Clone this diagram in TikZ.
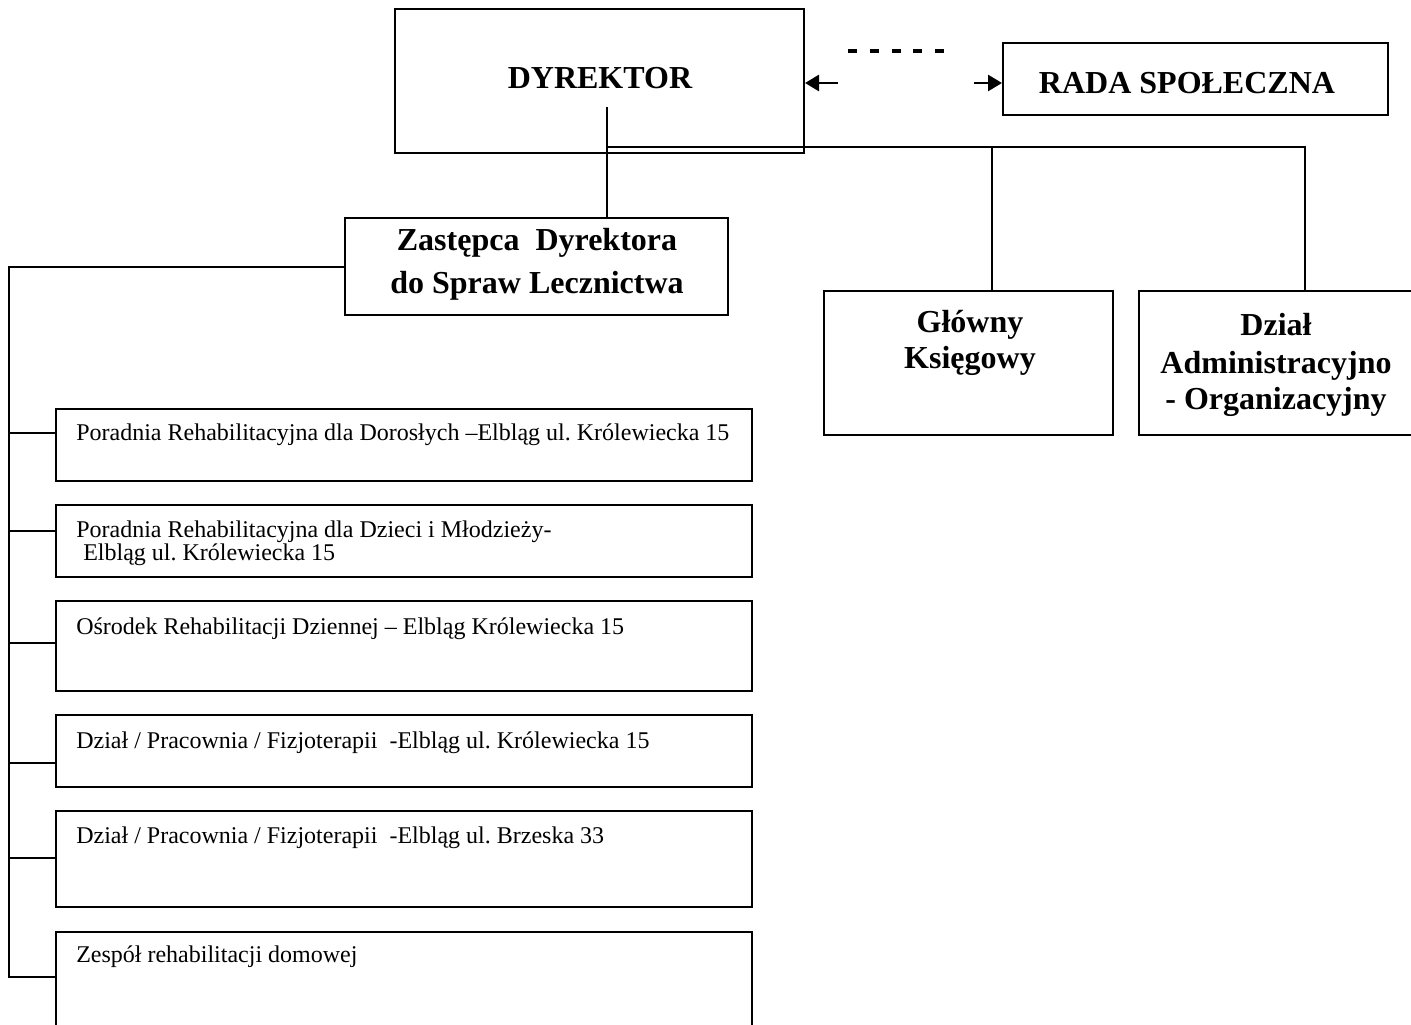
\documentclass[tikz,border=0pt]{standalone}
\usepackage{fontspec}
\setmainfont{Liberation Serif}
\usetikzlibrary{arrows.meta}
\frenchspacing
\newcommand\mkbox[5]{\node[box, minimum width={(#4)*0.75pt}, minimum height={(#5)*0.75pt}] (#1) at ({#2+(#4)/2},{#3+(#5)/2}) {};}
\begin{document}
\begin{tikzpicture}[x=0.75pt,y=-0.75pt,
  box/.style={draw, rectangle, inner sep=0pt, line width=1.5pt},
  title/.style={font=\fontsize{24}{26}\selectfont\bfseries, inner sep=0pt, anchor=base},
  body/.style={font=\fontsize{18}{20}\selectfont, inner sep=0pt, anchor=base west},
  conn/.style={line width=1.5pt},
  arr/.style={line width=2pt, -{Triangle[length=10.5pt,width=12pt]}},
  dashline/.style={line width=3pt, dash pattern=on 6.75pt off 9.56pt}
]
\useasboundingbox (0,0) rectangle (1411,1025);
\fill[white] (0,0) rectangle (1411,1025);
\clip (0,0) rectangle (1411,1025);

% boxes
\mkbox{dyr}{395}{9}{409}{144}
\mkbox{rada}{1003}{43}{385}{72}
\mkbox{zast}{345}{218}{383}{97}
\mkbox{glow}{824}{291}{289}{144}
\mkbox{dzial}{1139}{291}{275}{144}
\mkbox{b1}{56}{409}{696}{72}
\mkbox{b2}{56}{505}{696}{72}
\mkbox{b3}{56}{601}{696}{90}
\mkbox{b4}{56}{715}{696}{72}
\mkbox{b5}{56}{811}{696}{96}
\mkbox{b6}{56}{932}{696}{160}

% titles
\node[title] (tdyr) at (600,88) {DYREKTOR};
\node[title] (trada) at (1187,93) {RADA SPOŁECZNA};
\node[title] (tz1) at (537,250) {Zastępca\ \ Dyrektora};
\node[title] (tz2) at (537,293) {do Spraw Lecznictwa};
\node[title] (tg1) at (970,332) {Główny};
\node[title] (tg2) at (970,368) {Księgowy};
\node[title] (td1) at (1276,335) {Dział};
\node[title] (td2) at (1276,373) {Administracyjno};
\node[title] (td3) at (1276,409) {- Organizacyjny};

% body texts
\node[body] (t1) at (76,440) {Poradnia Rehabilitacyjna dla Dorosłych –Elbląg ul. Królewiecka 15};
\node[body] (t2a) at (76,537) {Poradnia Rehabilitacyjna dla Dzieci i Młodzieży-};
\node[body] (t2b) at (83,560) {Elbląg ul. Królewiecka 15};
\node[body] (t3) at (76,634) {Ośrodek Rehabilitacji Dziennej – Elbląg Królewiecka 15};
\node[body] (t4) at (76,748) {Dział / Pracownia / Fizjoterapii\ \ -Elbląg ul. Królewiecka 15};
\node[body] (t5) at (76,843) {Dział / Pracownia / Fizjoterapii\ \ -Elbląg ul. Brzeska 33};
\node[body] (t6) at (76,962) {Zespół rehabilitacji domowej};

% connectors from director
\coordinate (d0) at (607,107);
\coordinate (hb) at (607,147);
\coordinate (hg) at (992,147);
\coordinate (hd) at (1305,147);
\draw[conn] (d0) -- (zast.north -| d0);
\draw[conn] (hb) -- (hd) -- (dzial.north -| hd);
\draw[conn] (hg) -- (glow.north -| hg);

% left tree
\coordinate (tl) at (9,267);
\coordinate (tb) at (9,977);
\draw[conn] (zast.west |- tl) -- (tl) -- (tb) -- (b6.west |- tb);
\foreach \b/\yy in {b1/433, b2/531, b3/643, b4/763, b5/858}{
  \draw[conn] (9,\yy) -- (\b.west |- 0,\yy);
}

% arrows between director and council
\coordinate (al) at (838,83);
\coordinate (ar) at (974,83);
\draw[arr] (al) -- (dyr.east |- al);
\draw[arr] (ar) -- (rada.west |- ar);
\coordinate (ds) at (848,51);
\coordinate (de) at (945,51);
\draw[dashline] (ds) -- (de);
\end{tikzpicture}
\end{document}
